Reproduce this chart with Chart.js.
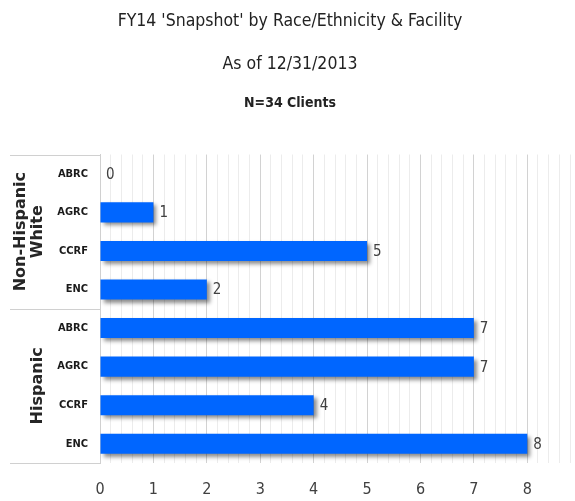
<!DOCTYPE html>
<html>
<head>
<meta charset="utf-8">
<script src="https://cdn.jsdelivr.net/npm/chart.js@4"></script>
<style>
  html, body { margin: 0; padding: 0; background: #fff; }
  #wrap { width: 575px; height: 501px; }
</style>
</head>
<body>
<div id="wrap"><canvas id="snapshotChart"></canvas></div>
<script>
const facilities = ['ABRC', 'AGRC', 'CCRF', 'ENC', 'ABRC', 'AGRC', 'CCRF', 'ENC'];
const clients = [0, 1, 5, 2, 7, 7, 4, 8];
const groups = [
  { lines: ['Non-Hispanic', 'White'], from: 0, to: 3 },
  { lines: ['Hispanic'], from: 4, to: 7 }
];
const xMax = 8.8;
const narrow = "'DejaVu Sans Condensed', 'Liberation Sans Narrow', sans-serif";

const isWhole = v => Math.abs(v - Math.round(v)) < 1e-6;

// drop shadow under the bars, value labels at the bar ends
const barDecor = {
  id: 'barDecor',
  beforeDatasetsDraw(chart) {
    const ctx = chart.ctx;
    ctx.save();
    ctx.shadowColor = 'rgba(0,0,0,0.45)';
    ctx.shadowOffsetX = 3;
    ctx.shadowOffsetY = 3;
    ctx.shadowBlur = 4;
  },
  afterDatasetsDraw(chart) {
    const ctx = chart.ctx;
    ctx.restore();
    ctx.save();
    ctx.font = '15px ' + narrow;
    ctx.fillStyle = '#404040';
    ctx.textAlign = 'left';
    ctx.textBaseline = 'middle';
    chart.getDatasetMeta(0).data.forEach((bar, i) => {
      ctx.fillText(String(clients[i]), bar.x + 6, bar.y + 1);
    });
    ctx.restore();
  }
};

// two-level category axis: group boxes and rotated group names
const groupAxis = {
  id: 'groupAxis',
  afterDraw(chart) {
    const ctx = chart.ctx;
    const y = chart.scales.y;
    const area = chart.chartArea;
    const left = y.left;
    const half = (y.getPixelForValue(1) - y.getPixelForValue(0)) / 2;
    ctx.save();
    ctx.strokeStyle = '#d0d0d0';
    ctx.lineWidth = 1;
    const edges = [area.top];
    groups.forEach(g => edges.push(y.getPixelForValue(g.to) + half));
    edges.forEach(py => {
      ctx.beginPath();
      ctx.moveTo(left, Math.round(py) + 0.5);
      ctx.lineTo(area.left, Math.round(py) + 0.5);
      ctx.stroke();
    });
    ctx.fillStyle = '#262626';
    ctx.font = 'bold 16px "DejaVu Sans", sans-serif';
    ctx.textAlign = 'center';
    ctx.textBaseline = 'middle';
    groups.forEach(g => {
      const cy = (y.getPixelForValue(g.from) - half + y.getPixelForValue(g.to) + half) / 2;
      const n = g.lines.length;
      g.lines.forEach((line, k) => {
        const cx = left + 28 - (n - 1 - k) * 17;
        ctx.save();
        ctx.translate(cx, cy);
        ctx.rotate(-Math.PI / 2);
        ctx.fillText(line, 0, 0);
        ctx.restore();
      });
    });
    ctx.restore();
  }
};

new Chart(document.getElementById('snapshotChart'), {
  type: 'bar',
  data: {
    labels: facilities,
    datasets: [{
      data: clients,
      backgroundColor: '#0066ff',
      borderWidth: 0,
      categoryPercentage: 1,
      barPercentage: 0.52
    }]
  },
  options: {
    indexAxis: 'y',
    responsive: true,
    maintainAspectRatio: false,
    animation: false,
    layout: { padding: { left: 10, right: 5, top: 0, bottom: 2 } },
    plugins: {
      legend: { display: false },
      tooltip: { enabled: false },
      title: {
        display: true,
        text: ["FY14 'Snapshot' by Race/Ethnicity & Facility", 'As of 12/31/2013'],
        color: '#222222',
        font: { family: narrow, size: 17.5, weight: 'normal', lineHeight: 2.45 },
        padding: { top: 0, bottom: 9 }
      },
      subtitle: {
        display: true,
        text: 'N=34 Clients',
        color: '#222222',
        font: { family: narrow, size: 14, weight: 'bold', lineHeight: 1.2 },
        padding: { top: 0, bottom: 43 }
      }
    },
    scales: {
      x: {
        min: 0,
        max: xMax,
        afterFit(scale) { scale.height = 36; },
        ticks: {
          stepSize: 0.2,
          autoSkip: false,
          maxRotation: 0,
          padding: 3,
          color: '#404040',
          font: { family: narrow, size: 16 },
          callback: v => isWhole(v) ? String(Math.round(v)) : ''
        },
        grid: {
          drawTicks: true,
          tickLength: 14,
          tickColor: 'rgba(0,0,0,0)',
          color: ctx => isWhole(ctx.tick.value) ? '#d2d2d2' : '#ececec'
        },
        border: { display: false }
      },
      y: {
        afterFit(scale) { scale.width = 90; },
        ticks: {
          padding: 12,
          color: '#1a1a1a',
          font: { family: narrow, size: 11, weight: 'bold' }
        },
        grid: { display: false, drawTicks: false },
        border: { display: true, color: '#d0d0d0' }
      }
    }
  },
  plugins: [barDecor, groupAxis]
});
</script>
</body>
</html>
